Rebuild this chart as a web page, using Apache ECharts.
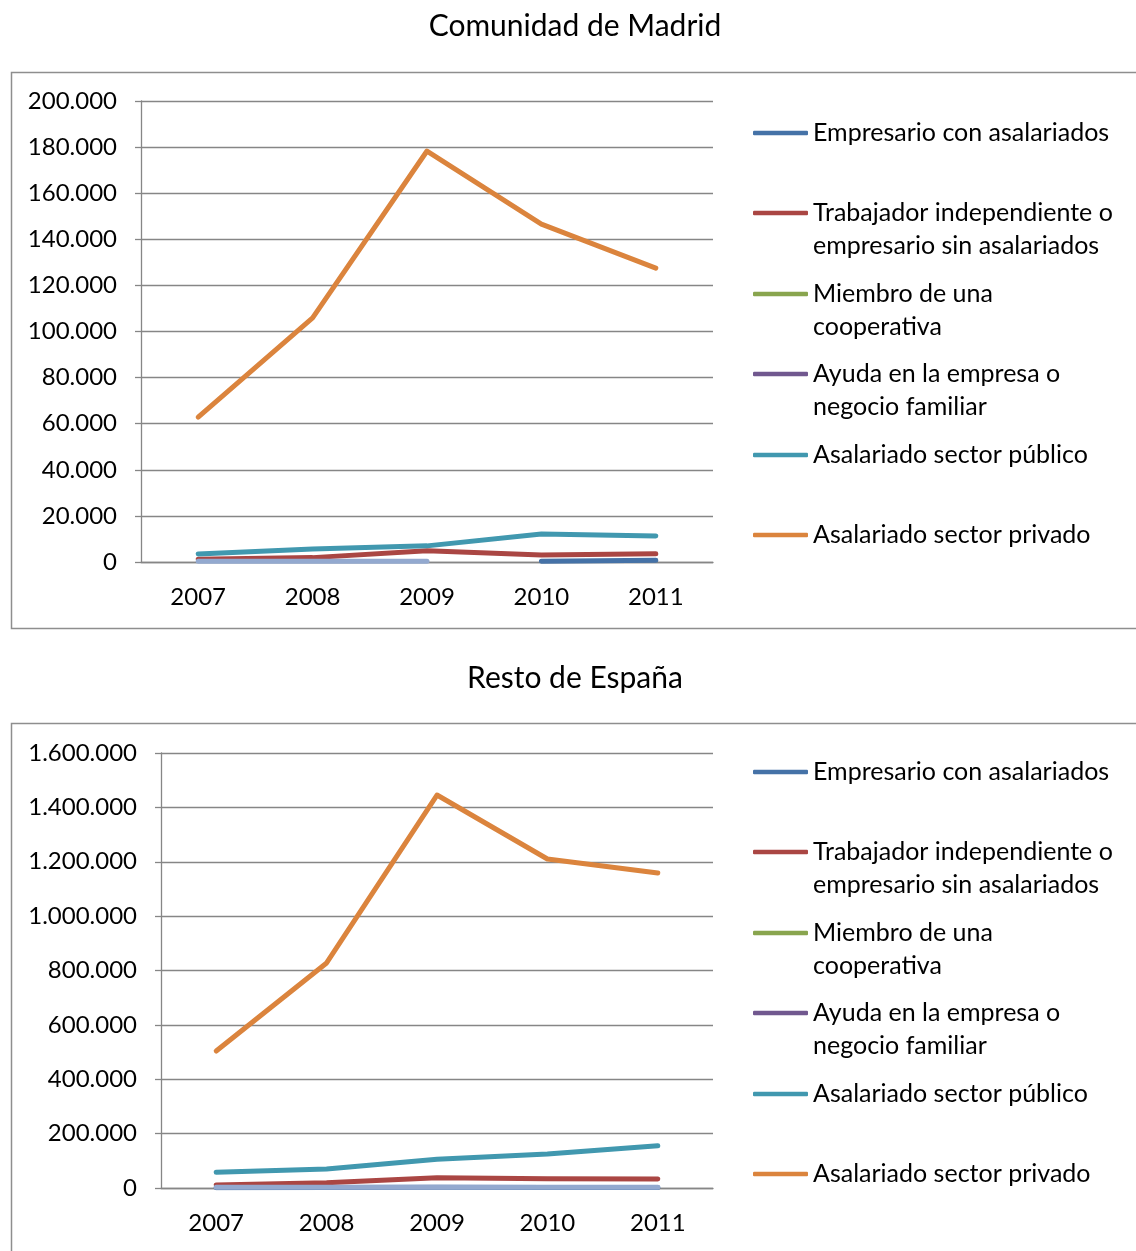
<!DOCTYPE html>
<html>
<head>
<meta charset="utf-8">
<script src="https://cdn.jsdelivr.net/npm/echarts@6/dist/echarts.min.js"></script>
<style>
  html, body { margin: 0; padding: 0; background: #fff; }
  #chart { width: 1136px; height: 1251px; }
</style>
</head>
<body>
<div id="chart"></div>
<script>
// categorias
var years = ['2007', '2008', '2009', '2010', '2011']
var seriesNames = [
  'Empresario con asalariados',
  'Trabajador independiente o empresario sin asalariados',
  'Miembro de una cooperativa',
  'Ayuda en la empresa o negocio familiar',
  'Asalariado sector público',
  'Asalariado sector privado',
  'Otra situación'
]
// textos de la leyenda (con salto de linea)
var legendTexts = [
  'Empresario con asalariados',
  'Trabajador independiente o\nempresario sin asalariados',
  'Miembro de una\ncooperativa',
  'Ayuda en la empresa o\nnegocio familiar',
  'Asalariado sector público',
  'Asalariado sector privado'
]
var colors = ['#4572A7', '#AA4643', '#89A54E', '#71588F', '#4198AF', '#DB843D', '#93A9CF']

// Comunidad de Madrid
var madridEmpresario = [null, null, null, 300, 740]
var madridIndependiente = [1200, 1900, 4900, 3000, 3600]
var madridCooperativa = [null, null, null, null, null]
var madridAyuda = [null, null, null, null, null]
var madridPublico = [3500, 5600, 7000, 12100, 11300]
var madridPrivado = [62900, 105900, 178300, 146600, 127500]
var madridOtra = [300, 300, 300, null, null]

// Resto de España
var restoEmpresario = [1000, 1500, 2500, 2000, 2000]
var restoIndependiente = [11000, 19600, 38000, 34300, 33100]
var restoCooperativa = [null, null, null, null, null]
var restoAyuda = [null, null, null, null, null]
var restoPublico = [57700, 69900, 105500, 125000, 155600]
var restoPrivado = [503900, 827600, 1445500, 1210000, 1158600]
var restoOtra = [3000, 3000, 3000, 3000, 3000]

var madridData = [madridEmpresario, madridIndependiente, madridCooperativa, madridAyuda, madridPublico, madridPrivado, madridOtra]
var restoData = [restoEmpresario, restoIndependiente, restoCooperativa, restoAyuda, restoPublico, restoPrivado, restoOtra]

var fontFamily = 'Lato'
var gray = '#868686'

function fmt (v) {
  return String(v).replace(/\B(?=(\d{3})+(?!\d))/g, '.')
}

var myChart = echarts.init(document.getElementById('chart'))

function makeAxes (gridIndex, max, interval) {
  var xAxis = {
    type: 'category',
    gridIndex: gridIndex,
    data: years,
    boundaryGap: true,
    axisLine: { lineStyle: { color: gray, width: 1.3 } },
    axisTick: { length: 6, lineStyle: { color: gray, width: 1.3 } },
    axisLabel: { color: '#000', fontFamily: fontFamily, fontSize: 24, margin: 23 },
    splitLine: { show: false }
  }
  var yAxis = {
    type: 'value',
    gridIndex: gridIndex,
    min: 0,
    max: max,
    interval: interval,
    axisLine: { show: true, lineStyle: { color: gray, width: 1.3 } },
    axisTick: { show: true, length: 6, lineStyle: { color: gray, width: 1.3 } },
    axisLabel: { color: '#000', fontFamily: fontFamily, fontSize: 24, margin: 24, formatter: fmt },
    splitLine: { show: true, lineStyle: { color: gray, width: 1.3 } }
  }
  return { x: xAxis, y: yAxis }
}

var axes1 = makeAxes(0, 200000, 20000)
var axes2 = makeAxes(1, 1600000, 200000)

var chartSeries = []
var dataSets = [madridData, restoData]
for (var g = 0; g < 2; g++) {
  for (var s = 0; s < seriesNames.length; s++) {
    chartSeries.push({
      name: seriesNames[s],
      type: 'line',
      xAxisIndex: g,
      yAxisIndex: g,
      data: dataSets[g][s],
      symbol: 'none',
      showSymbol: false,
      connectNulls: false,
      lineStyle: { color: colors[s], width: 5, cap: 'round', join: 'round' },
      itemStyle: { color: colors[s] },
      emphasis: { disabled: true }
    })
  }
}

// una leyenda por elemento para colocar cada linea como en el original
// (linea en blanco delante para que la primera linea del texto quede a la altura del icono)
var legendCenters = [133, 213, 294, 374, 455, 535]
var legendList = []
for (var g2 = 0; g2 < 2; g2++) {
  for (var i = 0; i < 6; i++) {
    var twoLines = legendTexts[i].indexOf('\n') >= 0
    var lh = 33
    var itemTop = twoLines ? legendCenters[i] + g2 * 639 - 1.5 * lh : legendCenters[i] + g2 * 639 - 0.5 * lh
    legendList.push({
      data: [{ name: seriesNames[i], icon: 'roundRect' }],
      orient: 'vertical',
      left: 753,
      top: itemTop,
      padding: 0,
      itemWidth: 55,
      itemHeight: 4.5,
      selectedMode: false,
      formatter: (function (t) { return function () { return t } })(twoLines ? ' \n' + legendTexts[i] : legendTexts[i]),
      textStyle: {
        color: '#000',
        fontFamily: fontFamily,
        fontSize: 25,
        lineHeight: lh
      }
    })
  }
}

myChart.setOption({
  backgroundColor: '#fff',
  animation: false,
  title: [
    { text: 'Comunidad de Madrid', left: 575, top: 11, padding: 0, textAlign: 'center',
      textStyle: { fontFamily: fontFamily, fontSize: 30, fontWeight: 'normal', color: '#000' } },
    { text: 'Resto de España', left: 575, top: 663, padding: 0, textAlign: 'center',
      textStyle: { fontFamily: fontFamily, fontSize: 30, fontWeight: 'normal', color: '#000' } }
  ],
  graphic: [
    { type: 'rect', shape: { x: 11.5, y: 72.5, width: 1140, height: 556 },
      style: { fill: 'none', stroke: '#8E8E8E', lineWidth: 1.5 }, z: -1 },
    { type: 'rect', shape: { x: 11.5, y: 723.5, width: 1140, height: 600 },
      style: { fill: 'none', stroke: '#8E8E8E', lineWidth: 1.5 }, z: -1 }
  ],
  legend: legendList,
  grid: [
    { left: 141, top: 101, width: 572, height: 461 },
    { left: 161, top: 753, width: 552, height: 435 }
  ],
  xAxis: [axes1.x, axes2.x],
  yAxis: [axes1.y, axes2.y],
  series: chartSeries
})
</script>
</body>
</html>
